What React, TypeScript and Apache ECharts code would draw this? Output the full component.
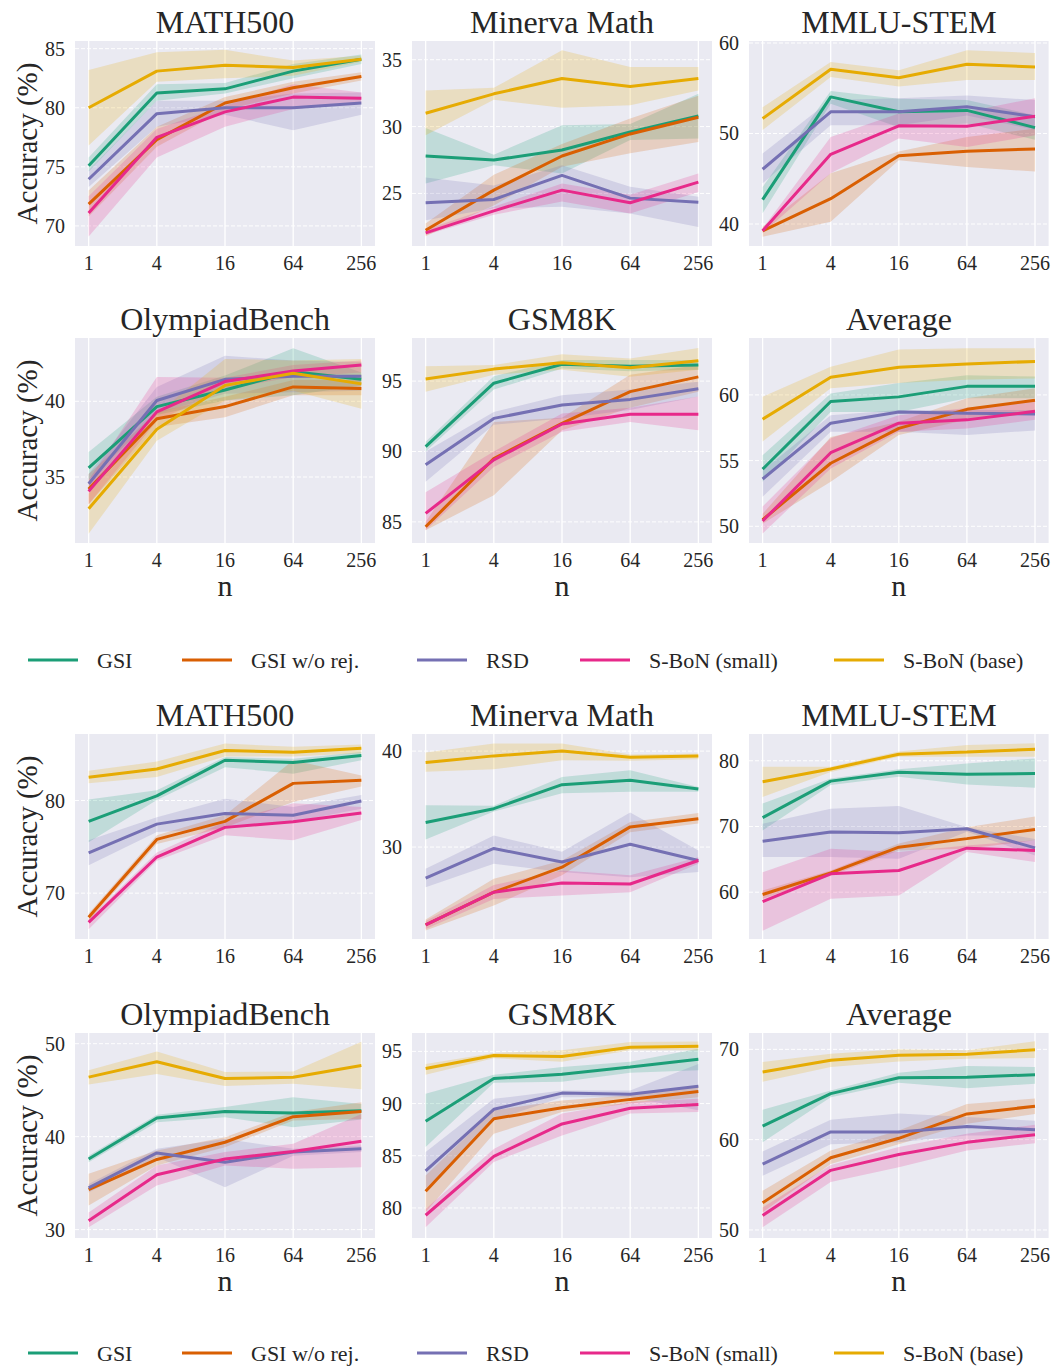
import { useEffect, useRef } from 'react';
import * as echarts from 'echarts';

const SERIES_NAMES = ['GSI', 'GSI w/o rej.', 'RSD', 'S-BoN (small)', 'S-BoN (base)'];
const COLORS = ['#1b9e77', '#d95f02', '#7570b3', '#e7298a', '#e6ab02'];
const N_LABELS = ['1', '4', '16', '64', '256'];
const N_POS = [0, 1, 2, 3, 4]; // log4(n)
const TITLES = ['MATH500', 'Minerva Math', 'MMLU-STEM', 'OlympiadBench', 'GSM8K', 'Average'];

// ---------- Block A (top) ----------
// order of rows: GSI, GSI w/o rej., RSD, S-BoN (small), S-BoN (base)
const aMathMean = [[75.1, 81.25, 81.6, 83.1, 84.1], [71.85, 77.3, 80.4, 81.7, 82.65], [73.95, 79.5, 80.0, 80.0, 80.4], [71.1, 77.5, 79.65, 80.9, 80.8], [80.0, 83.1, 83.6, 83.4, 84.1]];
const aMathLo = [[74.6, 80.6, 81.2, 82.5, 83.7], [70.8, 76.7, 79.8, 81.2, 82.3], [73.3, 78.4, 79.4, 78.1, 79.4], [69.1, 75.8, 78.4, 79.9, 80.4], [76.8, 82.2, 82.5, 82.7, 83.9]];
const aMathHi = [[75.8, 82.0, 82.1, 83.7, 84.5], [73.0, 78.4, 80.9, 82.2, 83.0], [74.7, 80.6, 80.6, 81.2, 81.3], [72.5, 78.2, 80.2, 82.0, 81.3], [83.2, 84.7, 84.9, 84.0, 84.4]];

const aMinMean = [[27.8, 27.5, 28.25, 29.6, 30.8], [22.25, 25.25, 27.8, 29.45, 30.7], [24.3, 24.55, 26.35, 24.65, 24.35], [22.05, 23.7, 25.25, 24.3, 25.85], [31.0, 32.45, 33.6, 33.0, 33.6]];
const aMinLo = [[25.75, 27.1, 26.5, 29.0, 29.1], [21.8, 24.1, 27.0, 28.0, 28.85], [23.0, 23.9, 24.0, 23.5, 22.5], [21.9, 23.4, 24.4, 23.5, 25.1], [29.35, 32.0, 31.4, 31.6, 32.7]];
const aMinHi = [[29.9, 27.9, 30.1, 30.2, 32.45], [22.75, 26.4, 28.7, 30.6, 32.3], [26.2, 25.6, 27.1, 25.5, 24.75], [22.3, 24.0, 25.75, 24.9, 26.5], [32.7, 32.9, 35.7, 34.45, 34.45]];

const aMmluMean = [[42.7, 54.05, 52.4, 52.55, 50.65], [39.25, 42.8, 47.55, 48.05, 48.3], [46.05, 52.4, 52.4, 52.95, 51.85], [39.25, 47.7, 50.85, 50.8, 51.9], [51.65, 57.1, 56.15, 57.65, 57.35]];
const aMmluLo = [[41.2, 53.3, 50.7, 51.1, 49.3], [38.6, 40.25, 47.05, 46.3, 45.8], [44.5, 50.9, 50.9, 52.0, 50.4], [39.0, 45.6, 49.45, 48.5, 49.8], [50.4, 56.25, 55.2, 55.9, 55.9]];
const aMmluHi = [[44.1, 54.7, 53.85, 53.7, 52.0], [39.7, 45.6, 48.0, 49.6, 50.55], [47.8, 53.7, 53.9, 54.2, 53.7], [39.5, 49.6, 52.2, 52.4, 53.9], [52.9, 57.9, 57.0, 59.2, 58.9]];

const aOlyMean = [[35.6, 39.65, 40.75, 41.95, 41.45], [34.2, 38.85, 39.65, 40.95, 40.85], [34.55, 40.05, 41.45, 41.65, 41.65], [34.05, 39.3, 41.3, 42.0, 42.4], [32.9, 38.15, 41.05, 41.85, 41.15]];
const aOlyLo = [[34.8, 39.1, 40.05, 40.4, 41.05], [33.2, 38.3, 38.95, 40.4, 40.4], [34.0, 39.2, 40.5, 40.6, 40.7], [33.2, 38.7, 40.8, 41.6, 41.9], [31.25, 37.4, 40.05, 40.7, 39.5]];
const aOlyHi = [[36.65, 40.3, 41.7, 43.5, 41.9], [35.2, 39.3, 40.3, 41.4, 41.4], [35.2, 40.95, 43.0, 42.7, 42.6], [34.8, 41.6, 41.55, 42.4, 42.7], [33.9, 39.2, 42.8, 42.7, 42.8]];

const aGsmMean = [[90.35, 94.85, 96.2, 96.05, 96.15], [84.65, 89.5, 92.0, 94.25, 95.3], [89.05, 92.35, 93.3, 93.7, 94.45], [85.6, 89.4, 91.95, 92.65, 92.65], [95.15, 95.85, 96.3, 95.95, 96.45]];
const aGsmLo = [[90.0, 94.4, 95.9, 95.7, 95.8], [84.4, 86.9, 91.5, 93.1, 94.25], [87.85, 91.9, 92.35, 92.95, 93.9], [84.4, 88.9, 91.4, 92.1, 91.5], [94.25, 95.45, 95.8, 95.3, 95.8]];
const aGsmHi = [[90.7, 95.35, 96.5, 96.5, 96.5], [85.0, 92.1, 92.4, 95.45, 96.15], [90.0, 92.8, 94.0, 94.4, 94.95], [87.1, 90.0, 92.7, 93.1, 93.9], [96.05, 96.15, 96.9, 96.6, 97.35]];

const aAvgMean = [[54.35, 59.5, 59.85, 60.65, 60.65], [50.5, 54.8, 57.45, 58.9, 59.6], [53.6, 57.85, 58.7, 58.6, 58.55], [50.4, 55.6, 57.85, 58.1, 58.75], [58.15, 61.35, 62.1, 62.35, 62.55]];
const aAvgLo = [[53.4, 58.7, 58.7, 59.75, 59.75], [50.2, 53.4, 56.95, 58.1, 58.7], [52.25, 57.2, 57.2, 56.95, 57.3], [49.45, 54.4, 57.2, 57.45, 58.1], [56.45, 60.5, 60.9, 61.15, 61.25]];
const aAvgHi = [[55.4, 60.1, 60.9, 61.5, 61.4], [50.95, 56.8, 57.95, 59.75, 60.5], [54.25, 58.45, 58.85, 58.85, 58.85], [51.5, 56.7, 58.45, 59.0, 59.6], [59.85, 62.15, 63.45, 63.55, 63.55]];

// ---------- Block B (bottom) ----------
const bMathMean = [[77.75, 80.5, 84.35, 84.1, 84.85], [67.4, 75.8, 77.75, 81.85, 82.2], [74.35, 77.45, 78.6, 78.4, 79.95], [66.85, 73.9, 77.1, 77.7, 78.65], [82.5, 83.4, 85.4, 85.2, 85.65]];
const bMathLo = [[75.5, 80.05, 83.6, 82.9, 84.35], [67.0, 75.3, 77.1, 79.85, 81.5], [73.0, 76.6, 76.95, 77.7, 79.1], [66.1, 73.5, 76.25, 75.7, 77.9], [81.85, 82.55, 84.75, 84.75, 85.1]];
const bMathHi = [[80.1, 81.1, 84.7, 84.5, 85.25], [67.8, 76.25, 78.4, 84.35, 82.7], [75.7, 78.2, 80.2, 79.3, 80.6], [67.2, 74.4, 77.7, 79.7, 79.3], [83.2, 84.2, 86.15, 85.8, 86.05]];

const bMinMean = [[32.55, 34.0, 36.5, 36.95, 36.05], [21.9, 25.3, 27.9, 32.1, 32.95], [26.75, 29.85, 28.45, 30.3, 28.6], [21.9, 25.3, 26.25, 26.15, 28.6], [38.8, 39.5, 40.0, 39.35, 39.5]];
const bMinLo = [[30.8, 33.7, 35.6, 35.75, 35.75], [21.3, 23.9, 27.05, 31.55, 32.45], [25.8, 28.25, 27.4, 26.85, 27.4], [21.45, 24.6, 24.95, 25.3, 28.25], [37.85, 38.1, 39.05, 39.0, 39.15]];
const bMinHi = [[34.35, 34.3, 37.3, 38.0, 36.25], [22.45, 26.7, 28.6, 32.6, 33.55], [27.75, 31.2, 29.5, 33.6, 29.65], [22.3, 26.05, 27.55, 27.05, 28.95], [39.85, 40.8, 40.8, 39.65, 39.75]];

const bMmluMean = [[71.35, 76.9, 78.25, 77.95, 78.05], [59.65, 62.95, 66.85, 68.15, 69.55], [67.75, 69.15, 69.05, 69.65, 66.75], [58.55, 62.8, 63.3, 66.7, 66.35], [76.8, 78.75, 81.0, 81.35, 81.75]];
const bMmluLo = [[69.4, 76.3, 77.55, 76.4, 75.9], [59.0, 62.5, 66.35, 66.6, 67.9], [65.35, 65.35, 65.1, 69.2, 65.6], [54.15, 59.0, 59.5, 66.1, 64.6], [74.5, 78.3, 80.6, 80.6, 80.6]];
const bMmluHi = [[73.5, 77.3, 78.7, 79.6, 80.35], [60.25, 63.3, 67.4, 69.9, 71.5], [70.4, 72.7, 73.1, 69.9, 68.1], [63.05, 66.6, 66.1, 67.1, 67.9], [79.1, 79.1, 81.4, 82.4, 82.65]];

const bOlyMean = [[37.6, 42.0, 42.7, 42.55, 42.8], [34.3, 37.55, 39.4, 42.15, 42.7], [34.5, 38.25, 37.25, 38.35, 38.7], [30.95, 35.9, 37.6, 38.4, 39.5], [46.4, 48.05, 46.25, 46.4, 47.65]];
const bOlyLo = [[37.25, 41.55, 42.1, 41.0, 41.85], [32.6, 36.9, 38.85, 41.75, 41.9], [34.0, 37.8, 34.55, 37.95, 38.35], [30.25, 34.75, 36.9, 36.55, 36.7], [45.6, 46.75, 45.45, 45.7, 45.1]];
const bOlyHi = [[37.95, 42.35, 43.2, 44.25, 43.5], [36.0, 38.5, 39.95, 42.65, 43.7], [34.9, 38.7, 39.75, 38.7, 39.05], [31.85, 36.9, 38.35, 39.25, 42.45], [47.15, 49.15, 46.95, 47.0, 50.2]];

const bGsmMean = [[88.3, 92.4, 92.8, 93.5, 94.25], [81.6, 88.55, 89.6, 90.4, 91.15], [83.55, 89.45, 91.0, 90.9, 91.65], [79.3, 84.95, 88.05, 89.55, 89.9], [93.35, 94.6, 94.5, 95.4, 95.5]];
const bGsmLo = [[85.85, 92.0, 92.1, 92.95, 93.2], [79.6, 87.1, 89.2, 90.0, 90.6], [81.85, 88.4, 90.6, 90.6, 89.35], [78.15, 84.4, 86.95, 89.05, 89.2], [92.75, 94.35, 94.0, 95.1, 95.1]];
const bGsmHi = [[90.95, 92.75, 93.5, 94.0, 95.25], [83.1, 89.35, 90.3, 90.8, 91.75], [85.35, 90.45, 91.25, 91.25, 93.8], [79.9, 85.65, 89.05, 90.15, 90.45], [93.8, 94.85, 95.1, 95.9, 95.95]];

const bAvgMean = [[61.5, 65.1, 66.85, 66.9, 67.2], [53.0, 58.0, 60.15, 62.85, 63.7], [57.3, 60.85, 60.85, 61.45, 61.1], [51.6, 56.6, 58.35, 59.7, 60.55], [67.5, 68.8, 69.35, 69.45, 69.95]];
const bAvgLo = [[59.7, 64.7, 66.3, 65.7, 66.2], [51.95, 57.3, 59.5, 61.75, 62.85], [56.0, 59.5, 59.7, 60.45, 60.45], [50.3, 55.3, 56.95, 58.8, 59.6], [66.4, 68.05, 68.65, 68.95, 69.05]];
const bAvgHi = [[63.3, 65.45, 67.4, 68.15, 68.05], [54.35, 58.8, 61.0, 63.95, 64.55], [58.7, 62.2, 62.9, 62.5, 62.1], [52.5, 57.2, 59.2, 60.65, 61.65], [68.6, 69.5, 70.0, 69.9, 70.9]];

// y-axis limits and tick labels, panel order: MATH500, Minerva, MMLU, Olympiad, GSM8K, Average
const Y_RANGE_A = [[68.3, 85.65], [21.07, 36.4], [37.57, 60.22], [30.64, 44.18], [83.5, 98.06], [48.73, 64.33]];
const Y_RANGE_B = [[65.05, 87.18], [20.42, 41.78], [52.88, 84.07], [29.1, 51.15], [77.12, 96.76], [49.11, 71.81]];
const Y_TICKS_A = [[70, 75, 80, 85], [25, 30, 35], [40, 50, 60], [35, 40], [85, 90, 95], [50, 55, 60]];
const Y_TICKS_B = [[70, 80], [30, 40], [60, 70, 80], [30, 40, 50], [80, 85, 90, 95], [50, 60, 70]];

// ---------- layout / style ----------
const FONT = 'Liberation Serif';
const TEXT = '#262626';
const BG = '#EAEAF2';
const COL_LEFT = [75, 412, 749];
const ROW_TOP = [41, 338, 734, 1033];
const GRID_W = 300;
const GRID_H = 205;
const LEGEND_TOP = [649, 1342];
const LEGEND_LEFT = [28, 182, 417, 580, 834];

function hexToRgba(hex: string, a: number) {
  const r = parseInt(hex.slice(1, 3), 16);
  const g = parseInt(hex.slice(3, 5), 16);
  const b = parseInt(hex.slice(5, 7), 16);
  return `rgba(${r},${g},${b},${a})`;
}

function buildOption() {
  const blocks = [
    {
      mean: [aMathMean, aMinMean, aMmluMean, aOlyMean, aGsmMean, aAvgMean],
      lo: [aMathLo, aMinLo, aMmluLo, aOlyLo, aGsmLo, aAvgLo],
      hi: [aMathHi, aMinHi, aMmluHi, aOlyHi, aGsmHi, aAvgHi],
      range: Y_RANGE_A,
      ticks: Y_TICKS_A,
    },
    {
      mean: [bMathMean, bMinMean, bMmluMean, bOlyMean, bGsmMean, bAvgMean],
      lo: [bMathLo, bMinLo, bMmluLo, bOlyLo, bGsmLo, bAvgLo],
      hi: [bMathHi, bMinHi, bMmluHi, bOlyHi, bGsmHi, bAvgHi],
      range: Y_RANGE_B,
      ticks: Y_TICKS_B,
    },
  ];

  const grids: any[] = [];
  const xAxes: any[] = [];
  const yAxes: any[] = [];
  const titles: any[] = [];
  const series: any[] = [];
  const lineSeries: any[] = [];
  const legends: any[] = [];

  blocks.forEach((blk, b) => {
    for (let p = 0; p < 6; p++) {
      const idx = b * 6 + p;
      const row = b * 2 + Math.floor(p / 3);
      const col = p % 3;
      const left = COL_LEFT[col];
      const top = ROW_TOP[row];
      const isBottom = Math.floor(p / 3) === 1;
      const isLeft = col === 0;
      const ticks = blk.ticks[p];

      grids.push({
        left,
        top,
        width: GRID_W,
        height: GRID_H,
        show: true,
        backgroundColor: BG,
        borderWidth: 0,
        containLabel: false,
      });
      titles.push({
        text: TITLES[p],
        left: left + GRID_W / 2,
        top: top - 35,
        textAlign: 'center',
        padding: 0,
        textStyle: { fontFamily: FONT, fontSize: 32, fontWeight: 'normal', color: TEXT },
      });
      xAxes.push({
        type: 'value',
        gridIndex: idx,
        min: -0.2,
        max: 4.2,
        axisLine: { show: false },
        axisTick: { show: false, customValues: N_POS },
        splitLine: { show: false },
        axisLabel: {
          customValues: N_POS,
          margin: 7,
          fontFamily: FONT,
          fontSize: 20,
          color: TEXT,
          formatter: (v: number) => {
            const k = Math.round(v);
            return Math.abs(v - k) < 1e-6 && k >= 0 && k < N_LABELS.length ? N_LABELS[k] : '';
          },
        },
        name: isBottom ? 'n' : '',
        nameLocation: 'middle',
        nameGap: 24,
        nameTextStyle: { fontFamily: FONT, fontSize: 30, color: TEXT },
      });
      yAxes.push({
        type: 'value',
        gridIndex: idx,
        min: blk.range[p][0],
        max: blk.range[p][1],
        axisLine: { show: false },
        axisTick: { show: false, customValues: ticks },
        splitLine: { show: false },
        axisLabel: {
          customValues: ticks,
          margin: 10,
          fontFamily: FONT,
          fontSize: 20,
          color: TEXT,
          formatter: (v: number) => (ticks.indexOf(v) >= 0 ? String(v) : ''),
        },
        name: isLeft ? 'Accuracy (%)' : '',
        nameLocation: 'middle',
        nameGap: 33,
        nameTextStyle: { fontFamily: FONT, fontSize: 29, color: TEXT },
      });

      // grid lines (seaborn darkgrid): white vertical, dashed white horizontal
      series.push({
        type: 'custom',
        xAxisIndex: idx,
        yAxisIndex: idx,
        silent: true,
        z: 1,
        data: [[0, ticks[0]]],
        renderItem: (params: any, api: any) => {
          const cs = params.coordSys;
          const children: any[] = [];
          N_POS.forEach((x) => {
            const px = api.coord([x, ticks[0]])[0];
            children.push({
              type: 'line',
              shape: { x1: px, y1: cs.y, x2: px, y2: cs.y + cs.height },
              style: { stroke: '#ffffff', lineWidth: 1.3 },
            });
          });
          ticks.forEach((t) => {
            const py = api.coord([0, t])[1];
            children.push({
              type: 'line',
              shape: { x1: cs.x, y1: py, x2: cs.x + cs.width, y2: py },
              style: { stroke: 'rgba(255,255,255,0.95)', lineWidth: 1, lineDash: [4, 2] },
            });
          });
          return { type: 'group', children };
        },
      });

      // confidence bands
      for (let s = 0; s < 5; s++) {
        const lo = blk.lo[p][s];
        const hi = blk.hi[p][s];
        const color = COLORS[s];
        series.push({
          type: 'custom',
          xAxisIndex: idx,
          yAxisIndex: idx,
          silent: true,
          z: 2,
          clip: true,
          data: [[0, lo[0]]],
          renderItem: (params: any, api: any) => {
            const pts: number[][] = [];
            for (let k = 0; k < N_POS.length; k++) pts.push(api.coord([N_POS[k], hi[k]]));
            for (let k = N_POS.length - 1; k >= 0; k--) pts.push(api.coord([N_POS[k], lo[k]]));
            return {
              type: 'polygon',
              shape: { points: pts },
              style: { fill: hexToRgba(color, 0.2), stroke: 'none' },
            };
          },
        });
      }

      // mean lines
      for (let s = 0; s < 5; s++) {
        const mean = blk.mean[p][s];
        lineSeries.push({
          type: 'line',
          name: SERIES_NAMES[s],
          xAxisIndex: idx,
          yAxisIndex: idx,
          data: N_POS.map((x, k) => [x, mean[k]]),
          symbol: 'none',
          showSymbol: false,
          silent: true,
          z: 3,
          color: COLORS[s],
          lineStyle: { width: 3, color: COLORS[s] },
          emphasis: { disabled: true },
        });
      }
    }

    // legend for this block, one component per item
    for (let s = 0; s < 5; s++) {
      legends.push({
        data: [SERIES_NAMES[s]],
        left: LEGEND_LEFT[s],
        top: LEGEND_TOP[b],
        padding: 0,
        icon: 'rect',
        itemWidth: 50,
        itemHeight: 3,
        selectedMode: false,
        textStyle: { fontFamily: FONT, fontSize: 22, color: TEXT, padding: [0, 0, 0, 14] },
      });
    }
  });

  return {
    animation: false,
    backgroundColor: '#ffffff',
    textStyle: { fontFamily: FONT },
    title: titles,
    grid: grids,
    xAxis: xAxes,
    yAxis: yAxes,
    legend: legends,
    series: [...lineSeries, ...series],
  };
}

export default function App() {
  const ref = useRef<HTMLDivElement>(null);
  useEffect(() => {
    if (!ref.current) return;
    const chart = echarts.init(ref.current, undefined, { renderer: 'svg' });
    chart.setOption(buildOption() as any);
    return () => chart.dispose();
  }, []);
  return (
    <div
      ref={ref}
      style={{ position: 'absolute', left: 0, top: 0, width: 1053, height: 1367, background: '#fff' }}
    />
  );
}
